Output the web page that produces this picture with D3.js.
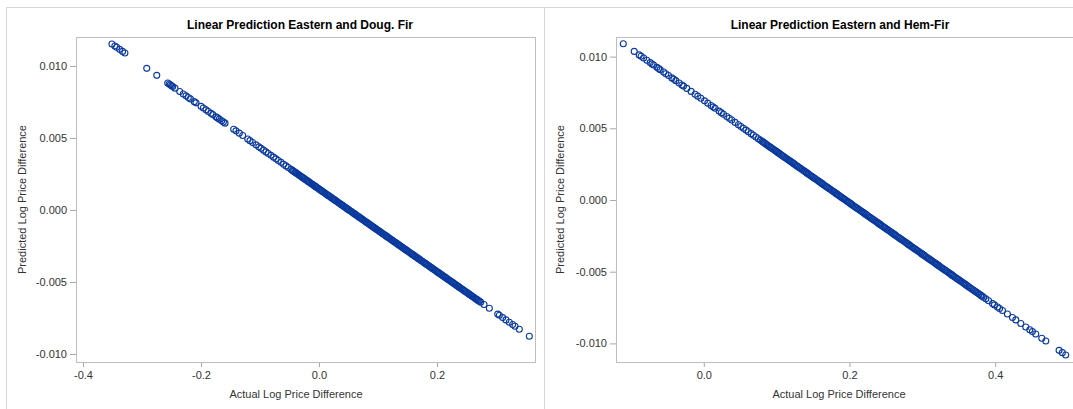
<!DOCTYPE html>
<html>
<head>
  <meta charset="UTF-8" />
  <title>Linear Prediction Eastern</title>
  <script src="https://d3js.org/d3.v7.min.js"></script>
  <style>
    body { margin: 0; background: #fff; }
    text { font-family: "Liberation Sans", Arial, sans-serif; }
    .title { font-size: 12px; font-weight: bold; fill: #000; }
    .axis-label { font-size: 11px; fill: #333; }
    .tick text { font-size: 11px; fill: #333; }
    .tick line { stroke: #a8a8a8; }
    .frame { fill: none; stroke: #bdbdbd; }
    .panel-line { stroke: #d6d6d6; }
    .pt { fill: none; stroke: #0b3a9e; stroke-width: 1.1; }
  </style>
</head>
<body>
  <svg id="chart" width="1073" height="409"></svg>
  <script>
    // Eastern vs Doug. Fir: actual and predicted log price differences
    const dougActual = [
      -0.351, -0.346, -0.343, -0.338, -0.333, -0.329, -0.292, -0.275,
      -0.2564, -0.2540, -0.2520, -0.2500, -0.2480, -0.2441, -0.2361, -0.2300, -0.2254, -0.2215,
      -0.2180, -0.2114, -0.2085, -0.2000, -0.1960, -0.1915, -0.1876, -0.1831, -0.1800, -0.1746,
      -0.1720, -0.1690, -0.1649, -0.1620, -0.1593,
      -0.1446, -0.1407, -0.1351, -0.1293, -0.1208, -0.1170, -0.1124, -0.1068, -0.1020, -0.0983,
      -0.0940, -0.0898, -0.0860, -0.0814, -0.0770, -0.0729, -0.0690, -0.0644, -0.0600, -0.0559,
      -0.0520, -0.0475,
      -0.045, -0.041, -0.038, -0.034, -0.030, -0.027, -0.023, -0.019, -0.016, -0.012, -0.008,
      -0.005, -0.001, 0.003, 0.006, 0.010, 0.014, 0.017, 0.021, 0.025, 0.028, 0.032, 0.036,
      0.039, 0.043, 0.047, 0.050, 0.054, 0.058, 0.061, 0.065, 0.069, 0.072, 0.076, 0.080,
      0.083, 0.087, 0.091, 0.094, 0.098, 0.102, 0.105, 0.109, 0.113, 0.116, 0.120, 0.124,
      0.127, 0.131, 0.135, 0.138, 0.142, 0.146, 0.149, 0.153, 0.157, 0.160, 0.164, 0.168,
      0.171, 0.175, 0.179, 0.182, 0.186, 0.190, 0.193, 0.197, 0.201, 0.204, 0.208, 0.212,
      0.215, 0.219, 0.223, 0.226, 0.230, 0.234, 0.237, 0.241, 0.245, 0.248, 0.252, 0.256,
      0.259, 0.263, 0.267, 0.270, 0.274,
      0.2797, 0.2887, 0.3029, 0.3057, 0.3113, 0.3169, 0.3226, 0.3282, 0.3322, 0.3395, 0.3565
    ];
    const dougPredicted = [
      0.011530, 0.011387, 0.011301, 0.011157, 0.011014, 0.010899, 0.009837, 0.009350,
      0.008816, 0.008747, 0.008690, 0.008633, 0.008575, 0.008463, 0.008234, 0.008059, 0.007927, 0.007815,
      0.007714, 0.007525, 0.007442, 0.007198, 0.007083, 0.006954, 0.006842, 0.006713, 0.006624, 0.006469,
      0.006395, 0.006309, 0.006191, 0.006108, 0.006030,
      0.005609, 0.005497, 0.005336, 0.005170, 0.004926, 0.004817, 0.004685, 0.004524, 0.004386, 0.004280,
      0.004157, 0.004036, 0.003927, 0.003795, 0.003669, 0.003552, 0.003440, 0.003308, 0.003181, 0.003064,
      0.002952, 0.002823,
      0.002751, 0.002636, 0.002550, 0.002435, 0.002321, 0.002235, 0.002120, 0.002005, 0.001919, 0.001804, 0.001690,
      0.001603, 0.001489, 0.001374, 0.001288, 0.001173, 0.001058, 0.000972, 0.000858, 0.000743, 0.000657, 0.000542, 0.000427,
      0.000341, 0.000226, 0.000112, 0.000025, -0.000089, -0.000204, -0.000290, -0.000405, -0.000520, -0.000606, -0.000720, -0.000835,
      -0.000921, -0.001036, -0.001151, -0.001237, -0.001352, -0.001466, -0.001552, -0.001667, -0.001782, -0.001868, -0.001983, -0.002098,
      -0.002184, -0.002298, -0.002413, -0.002499, -0.002614, -0.002729, -0.002815, -0.002930, -0.003044, -0.003130, -0.003245, -0.003360,
      -0.003446, -0.003561, -0.003676, -0.003762, -0.003876, -0.003991, -0.004077, -0.004192, -0.004307, -0.004393, -0.004508, -0.004622,
      -0.004708, -0.004823, -0.004938, -0.005024, -0.005139, -0.005253, -0.005340, -0.005454, -0.005569, -0.005655, -0.005770, -0.005885,
      -0.005971, -0.006085, -0.006200, -0.006286, -0.006401,
      -0.006565, -0.006823, -0.007230, -0.007310, -0.007471, -0.007632, -0.007795, -0.007956, -0.008071, -0.008280, -0.008768
    ];
    // more observations read from the solid part of the Doug. Fir band
    const dougActualBand = [
      -0.043, -0.0395, -0.036, -0.032, -0.0285, -0.025, -0.021, -0.0175, -0.014, -0.010, -0.0065, -0.003,
      0.001, 0.0045, 0.008, 0.012, 0.0155, 0.019, 0.023, 0.0265, 0.030, 0.034, 0.0375, 0.041, 0.045, 0.0485,
      0.052, 0.056, 0.0595, 0.063, 0.067, 0.0705, 0.074, 0.078, 0.0815, 0.085, 0.089, 0.0925, 0.096, 0.100,
      0.1035, 0.107, 0.111, 0.1145, 0.118, 0.122, 0.1255, 0.129, 0.133, 0.1365, 0.140, 0.144, 0.1475, 0.151,
      0.155, 0.1585, 0.162, 0.166, 0.1695, 0.173, 0.177, 0.1805, 0.184, 0.188, 0.1915, 0.195, 0.199, 0.2025,
      0.206, 0.210, 0.2135, 0.217, 0.221, 0.2245, 0.228, 0.232, 0.2355, 0.239, 0.243, 0.2465, 0.250, 0.254,
      0.2575, 0.261, 0.265, 0.2685, 0.272
    ];
    const dougPredictedBand = [
      0.002694, 0.002593, 0.002493, 0.002378, 0.002278, 0.002177, 0.002062, 0.001962, 0.001862, 0.001747, 0.001646, 0.001546,
      0.001431, 0.001331, 0.001230, 0.001116, 0.001015, 0.000915, 0.000800, 0.000700, 0.000599, 0.000485, 0.000384, 0.000283, 0.000169, 0.000068,
      -0.000032, -0.000147, -0.000247, -0.000347, -0.000462, -0.000563, -0.000663, -0.000778, -0.000878, -0.000979, -0.001093, -0.001194, -0.001294, -0.001409,
      -0.001509, -0.001610, -0.001725, -0.001825, -0.001925, -0.002040, -0.002141, -0.002241, -0.002356, -0.002456, -0.002557, -0.002671, -0.002772, -0.002872,
      -0.002987, -0.003087, -0.003188, -0.003303, -0.003403, -0.003503, -0.003618, -0.003719, -0.003819, -0.003934, -0.004034, -0.004135, -0.004249, -0.004350,
      -0.004450, -0.004565, -0.004665, -0.004766, -0.004880, -0.004981, -0.005081, -0.005196, -0.005297, -0.005397, -0.005512, -0.005612, -0.005713, -0.005827,
      -0.005928, -0.006028, -0.006143, -0.006243, -0.006344
    ];

    // Eastern vs Hem-Fir
    const hemActual = [
      -0.1105, -0.0955, -0.0886, -0.0860, -0.0826, -0.0781, -0.0736, -0.0710, -0.0689, -0.0644,
      -0.0620, -0.0599, -0.0552, -0.0520, -0.0484, -0.0438, -0.0410, -0.0384, -0.0338, -0.0300,
      -0.0278, -0.0233, -0.0174, -0.0119, -0.0082, -0.0040, 0.0010, 0.0055, 0.0100, 0.0130,
      0.0155, 0.0210, 0.0240, 0.0270, 0.0315, 0.0350, 0.0384, 0.0430, 0.0475, 0.0510, 0.0544,
      0.0580, 0.0612, 0.0650, 0.0681, 0.0715, 0.0749, 0.0775,
      0.080, 0.083, 0.087, 0.090, 0.093, 0.097, 0.100, 0.103, 0.107, 0.110, 0.113, 0.117,
      0.120, 0.123, 0.127, 0.130, 0.133, 0.137, 0.140, 0.143, 0.147, 0.150, 0.153, 0.157,
      0.160, 0.163, 0.167, 0.170, 0.173, 0.177, 0.180, 0.183, 0.187, 0.190, 0.193, 0.197,
      0.200, 0.203, 0.207, 0.210, 0.213, 0.217, 0.220, 0.223, 0.227, 0.230, 0.233, 0.237,
      0.240, 0.243, 0.247, 0.250, 0.253, 0.257, 0.260, 0.263, 0.267, 0.270, 0.273, 0.277,
      0.280, 0.283, 0.287, 0.290, 0.293, 0.297, 0.300, 0.303, 0.307, 0.310, 0.313, 0.317,
      0.320, 0.323, 0.327, 0.330, 0.333, 0.337, 0.340, 0.343, 0.347, 0.350, 0.353, 0.357,
      0.360, 0.364, 0.368, 0.372, 0.376, 0.380,
      0.384, 0.3872, 0.391, 0.3963, 0.399, 0.4032, 0.406, 0.4100, 0.4168, 0.4237, 0.4283,
      0.4352, 0.4420, 0.4475, 0.4511, 0.4557, 0.4640, 0.4695, 0.4877, 0.4922, 0.4968
    ];
    const hemPredicted = [
      0.010900, 0.010364, 0.010117, 0.010025, 0.009903, 0.009742, 0.009581, 0.009488, 0.009413, 0.009252,
      0.009167, 0.009091, 0.008923, 0.008809, 0.008680, 0.008516, 0.008416, 0.008323, 0.008158, 0.008023,
      0.007944, 0.007783, 0.007572, 0.007375, 0.007243, 0.007093, 0.006914, 0.006753, 0.006592, 0.006485,
      0.006396, 0.006199, 0.006092, 0.005985, 0.005824, 0.005699, 0.005577, 0.005413, 0.005252, 0.005127, 0.005005,
      0.004876, 0.004762, 0.004626, 0.004515, 0.004394, 0.004272, 0.004179,
      0.004090, 0.003983, 0.003840, 0.003732, 0.003625, 0.003482, 0.003375, 0.003268, 0.003125, 0.003017, 0.002910, 0.002767,
      0.002660, 0.002553, 0.002410, 0.002302, 0.002195, 0.002052, 0.001945, 0.001838, 0.001695, 0.001587, 0.001480, 0.001337,
      0.001230, 0.001123, 0.000980, 0.000872, 0.000765, 0.000622, 0.000515, 0.000408, 0.000265, 0.000157, 0.000050, -0.000093,
      -0.000200, -0.000307, -0.000450, -0.000558, -0.000665, -0.000808, -0.000915, -0.001022, -0.001165, -0.001273, -0.001380, -0.001523,
      -0.001630, -0.001737, -0.001880, -0.001988, -0.002095, -0.002238, -0.002345, -0.002452, -0.002595, -0.002703, -0.002810, -0.002953,
      -0.003060, -0.003167, -0.003310, -0.003418, -0.003525, -0.003668, -0.003775, -0.003882, -0.004025, -0.004133, -0.004240, -0.004383,
      -0.004490, -0.004597, -0.004740, -0.004848, -0.004955, -0.005098, -0.005205, -0.005312, -0.005455, -0.005563, -0.005670, -0.005813,
      -0.005920, -0.006063, -0.006206, -0.006349, -0.006492, -0.006635,
      -0.006778, -0.006892, -0.007028, -0.007218, -0.007314, -0.007464, -0.007565, -0.007708, -0.007951, -0.008197, -0.008362,
      -0.008608, -0.008852, -0.009048, -0.009177, -0.009341, -0.009638, -0.009835, -0.010485, -0.010646, -0.010811
    ];
    // more observations read from the solid part of the Hem-Fir band
    const hemActualBand = [
      0.0815, 0.085, 0.0885, 0.0915, 0.095, 0.0985, 0.1015, 0.105, 0.1085, 0.1115, 0.115, 0.1185,
      0.1215, 0.125, 0.1285, 0.1315, 0.135, 0.1385, 0.1415, 0.145, 0.1485, 0.1515, 0.155, 0.1585,
      0.1615, 0.165, 0.1685, 0.1715, 0.175, 0.1785, 0.1815, 0.185, 0.1885, 0.1915, 0.195, 0.1985,
      0.2015, 0.205, 0.2085, 0.2115, 0.215, 0.2185, 0.2215, 0.225, 0.2285, 0.2315, 0.235, 0.2385,
      0.2415, 0.245, 0.2485, 0.2515, 0.255, 0.2585, 0.2615, 0.265, 0.2685, 0.2715, 0.275, 0.2785,
      0.2815, 0.285, 0.2885, 0.2915, 0.295, 0.2985, 0.3015, 0.305, 0.3085, 0.3115, 0.315, 0.3185,
      0.3215, 0.325, 0.3285, 0.3315, 0.335, 0.3385, 0.3415, 0.345, 0.3485, 0.3515, 0.355, 0.3585,
      0.362, 0.366, 0.370, 0.374, 0.378, 0.382
    ];
    const hemPredictedBand = [
      0.004037, 0.003911, 0.003786, 0.003679, 0.003554, 0.003429, 0.003321, 0.003196, 0.003071, 0.002964, 0.002839, 0.002714,
      0.002607, 0.002481, 0.002356, 0.002249, 0.002124, 0.001999, 0.001891, 0.001766, 0.001641, 0.001534, 0.001409, 0.001284,
      0.001177, 0.001051, 0.000926, 0.000819, 0.000694, 0.000569, 0.000461, 0.000337, 0.000211, 0.000104, -0.000021, -0.000147,
      -0.000254, -0.000379, -0.000504, -0.000611, -0.000736, -0.000861, -0.000969, -0.001094, -0.001219, -0.001326, -0.001451, -0.001576,
      -0.001684, -0.001809, -0.001934, -0.002041, -0.002166, -0.002291, -0.002399, -0.002524, -0.002649, -0.002756, -0.002881, -0.003006,
      -0.003114, -0.003239, -0.003364, -0.003471, -0.003596, -0.003721, -0.003829, -0.003954, -0.004079, -0.004186, -0.004311, -0.004436,
      -0.004544, -0.004669, -0.004794, -0.004901, -0.005026, -0.005151, -0.005259, -0.005384, -0.005509, -0.005616, -0.005741, -0.005866,
      -0.005991, -0.006134, -0.006277, -0.006420, -0.006563, -0.006706
    ];

    const dougXTicks = [-0.4, -0.2, 0.0, 0.2];
    const hemXTicks = [0.0, 0.2, 0.4];
    const yTicks = [-0.010, -0.005, 0.000, 0.005, 0.010];

    const svg = d3.select("#chart");

    // outer panel borders
    svg.append("line").attr("class", "panel-line")
      .attr("x1", 6).attr("x2", 1073).attr("y1", 7.5).attr("y2", 7.5);
    [6.5, 544.5].forEach(x => {
      svg.append("line").attr("class", "panel-line")
        .attr("x1", x).attr("x2", x).attr("y1", 7).attr("y2", 409);
    });

    const fmtX = d => d3.format(".1f")(d).replace("\u2212", "-");
    const fmtY = d => d3.format(".3f")(d).replace("\u2212", "-");

    function drawPanel(opts) {
      const { left, right, top, bottom, xDomain, yDomain, xTicks, actual, predicted,
              title, titleX, xLabelX, yLabelX } = opts;

      const x = d3.scaleLinear().domain(xDomain).range([left, right]);
      const y = d3.scaleLinear().domain(yDomain).range([bottom, top]);

      const g = svg.append("g");

      g.append("g")
        .attr("transform", `translate(0,${bottom})`)
        .attr("color", "#333")
        .call(d3.axisBottom(x).tickValues(xTicks).tickFormat(fmtX).tickSize(5).tickPadding(4))
        .call(a => a.select(".domain").remove());

      g.append("g")
        .attr("transform", `translate(${left},0)`)
        .attr("color", "#333")
        .call(d3.axisLeft(y).tickValues(yTicks).tickFormat(fmtY).tickSize(6).tickPadding(3))
        .call(a => a.select(".domain").remove());

      g.selectAll(".tick text").attr("font-family", null);

      g.append("rect").attr("class", "frame")
        .attr("x", left + 0.5).attr("y", top + 0.5)
        .attr("width", right - left).attr("height", bottom - top);

      const pts = actual.map((v, i) => ({ a: v, p: predicted[i] }));
      g.append("g").selectAll("circle")
        .data(pts)
        .join("circle")
        .attr("class", "pt")
        .attr("cx", d => x(d.a))
        .attr("cy", d => y(d.p))
        .attr("r", 3);

      g.append("text").attr("class", "title")
        .attr("x", titleX).attr("y", 29)
        .attr("text-anchor", "middle")
        .text(title);

      g.append("text").attr("class", "axis-label")
        .attr("x", xLabelX).attr("y", 398)
        .attr("text-anchor", "middle")
        .text("Actual Log Price Difference");

      g.append("text").attr("class", "axis-label")
        .attr("transform", `translate(${yLabelX},${(top + bottom) / 2}) rotate(-90)`)
        .attr("text-anchor", "middle")
        .text("Predicted Log Price Difference");
    }

    drawPanel({
      left: 76, right: 535, top: 37, bottom: 362,
      xDomain: [-0.4119, 0.3661], yDomain: [-0.010556, 0.012014],
      xTicks: dougXTicks,
      actual: dougActual.concat(dougActualBand),
      predicted: dougPredicted.concat(dougPredictedBand),
      title: "Linear Prediction Eastern and Doug. Fir",
      titleX: 300, xLabelX: 296, yLabelX: 26
    });

    drawPanel({
      left: 616, right: 1074, top: 37, bottom: 362,
      xDomain: [-0.1205, 0.5082], yDomain: [-0.011297, 0.011367],
      xTicks: hemXTicks,
      actual: hemActual.concat(hemActualBand),
      predicted: hemPredicted.concat(hemPredictedBand),
      title: "Linear Prediction Eastern and Hem-Fir",
      titleX: 840, xLabelX: 839, yLabelX: 564
    });
  </script>
</body>
</html>
